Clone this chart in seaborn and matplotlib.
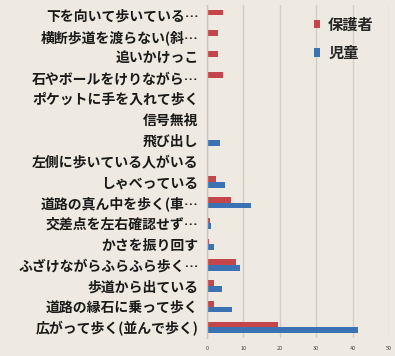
import matplotlib
matplotlib.use("Agg")
import matplotlib.pyplot as plt
import seaborn as sns
import pandas as pd

categories = [
    "下を向いて歩いている…",
    "横断歩道を渡らない(斜…",
    "追いかけっこ",
    "石やボールをけりながら…",
    "ポケットに手を入れて歩く",
    "信号無視",
    "飛び出し",
    "左側に歩いている人がいる",
    "しゃべっている",
    "道路の真ん中を歩く(車…",
    "交差点を左右確認せず…",
    "かさを振り回す",
    "ふざけながらふらふら歩く…",
    "歩道から出ている",
    "道路の縁石に乗って歩く",
    "広がって歩く(並んで歩く)",
]
guardians = [4.5, 3, 3, 4.3, 0.3, 0.3, 0, 0, 2.5, 6.5, 0.8, 0.5, 8, 2, 2, 19.5]
children = [0, 0, 0, 0, 0.3, 0.3, 3.5, 0, 5, 12, 1, 2, 9, 4, 7, 41.5]
series = ["保護者", "児童"]
xticks = [0, 10, 20, 30, 40, 50]

df = pd.DataFrame({
    "cat": categories * 2,
    "val": guardians + children,
    "who": [series[0]] * len(categories) + [series[1]] * len(categories),
})

sns.set_theme(style="white")
plt.rcParams["font.family"] = ["Noto Sans CJK JP", "DejaVu Sans"]

bg = "#eeeae2"
fig = plt.figure(figsize=(3.95, 3.56), dpi=100, facecolor=bg)
ax = fig.add_axes([0.524, 0.051, 0.461, 0.935])
ax.set_facecolor(bg)

sns.barplot(data=df, y="cat", x="val", hue="who", orient="h",
            palette=["#c4454a", "#3a72b4"], width=0.55, ax=ax,
            saturation=1, edgecolor="none")

ax.set_xlim(0, 50)
ax.set_xticks(xticks)
ax.set_xticklabels([str(t) for t in xticks], fontsize=4, color="#444444")
ax.tick_params(axis="x", length=0, pad=6)
ax.tick_params(axis="y", length=0, pad=6)
for lab in ax.get_yticklabels():
    lab.set_fontsize(10)
    lab.set_fontweight("bold")
    lab.set_color("#1a1a1a")
ax.set_xlabel("")
ax.set_ylabel("")
ax.xaxis.grid(True, color="#d2cec6", linewidth=1)
ax.set_axisbelow(True)
for s in ["top", "right", "bottom"]:
    ax.spines[s].set_visible(False)
ax.spines["left"].set_color("#c8c4bc")
ax.spines["left"].set_linewidth(1)

leg = ax.legend(loc="upper left", bbox_to_anchor=(0.51, 1.006), frameon=False,
                handlelength=0.45, handleheight=0.45, handletextpad=0.5,
                labelspacing=0.8, fontsize=11)
for t in leg.get_texts():
    t.set_fontweight("bold")

fig.savefig("out.png", dpi=100, facecolor=bg)
